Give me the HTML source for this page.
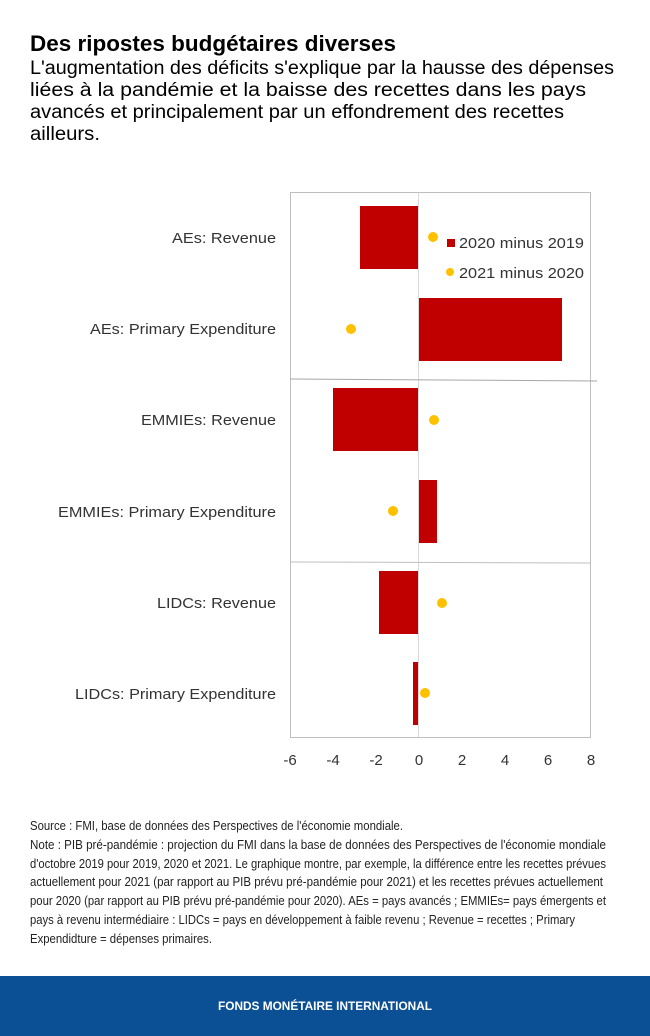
<!DOCTYPE html>
<html><head><meta charset="utf-8"><style>
html,body{margin:0;padding:0;background:#fff;}
svg{display:block;}
</style></head><body>
<svg width="650" height="1036" xmlns="http://www.w3.org/2000/svg" font-family="Liberation Sans, sans-serif">
<rect width="650" height="1036" fill="#fff"/>
<text x="30" y="51" font-size="22" font-weight="bold" fill="#000" textLength="366" lengthAdjust="spacingAndGlyphs">Des ripostes budgétaires diverses</text>
<g font-size="19" fill="#000">
<text x="30" y="74" textLength="584" lengthAdjust="spacingAndGlyphs">L'augmentation des déficits s'explique par la hausse des dépenses</text>
<text x="30" y="96" textLength="556" lengthAdjust="spacingAndGlyphs">liées à la pandémie et la baisse des recettes dans les pays</text>
<text x="30" y="118" textLength="534" lengthAdjust="spacingAndGlyphs">avancés et principalement par un effondrement des recettes</text>
<text x="30" y="140" textLength="70" lengthAdjust="spacingAndGlyphs">ailleurs.</text>
</g>
<rect x="290.5" y="192.5" width="300" height="545" fill="none" stroke="#bfbfbf"/>
<line x1="418.5" y1="193" x2="418.5" y2="737" stroke="#d9d9d9"/>
<line x1="290" y1="379" x2="597" y2="381" stroke="#a6a6a6"/>
<line x1="290" y1="562" x2="591" y2="563" stroke="#bfbfbf"/>
<g fill="#c00000">
<rect x="360" y="206" width="58" height="63"/>
<rect x="419" y="298" width="143" height="63"/>
<rect x="333" y="388" width="85" height="63"/>
<rect x="419" y="480" width="18" height="63"/>
<rect x="379" y="571" width="39" height="63"/>
<rect x="413" y="662" width="5" height="63"/>
</g>
<g fill="#ffc000">
<circle cx="433" cy="237" r="5"/>
<circle cx="351" cy="329" r="5"/>
<circle cx="434" cy="420" r="5"/>
<circle cx="393" cy="511" r="5"/>
<circle cx="442" cy="603" r="5"/>
<circle cx="425" cy="693" r="5"/>
</g>
<rect x="447" y="239" width="8" height="8" fill="#c00000"/>
<circle cx="450" cy="272" r="4" fill="#ffc000"/>
<g font-size="15" fill="#333">
<text x="459" y="248" textLength="125" lengthAdjust="spacingAndGlyphs">2020 minus 2019</text>
<text x="459" y="278" textLength="125" lengthAdjust="spacingAndGlyphs">2021 minus 2020</text>
</g>
<g font-size="15" fill="#333" text-anchor="end">
<text x="276" y="243" textLength="104" lengthAdjust="spacingAndGlyphs">AEs: Revenue</text>
<text x="276" y="334" textLength="186" lengthAdjust="spacingAndGlyphs">AEs: Primary Expenditure</text>
<text x="276" y="425" textLength="135" lengthAdjust="spacingAndGlyphs">EMMIEs: Revenue</text>
<text x="276" y="517" textLength="218" lengthAdjust="spacingAndGlyphs">EMMIEs: Primary Expenditure</text>
<text x="276" y="608" textLength="119" lengthAdjust="spacingAndGlyphs">LIDCs: Revenue</text>
<text x="276" y="699" textLength="201" lengthAdjust="spacingAndGlyphs">LIDCs: Primary Expenditure</text>
</g>
<g font-size="15" fill="#333" text-anchor="middle">
<text x="290" y="765">-6</text>
<text x="333" y="765">-4</text>
<text x="376" y="765">-2</text>
<text x="419" y="765">0</text>
<text x="462" y="765">2</text>
<text x="505" y="765">4</text>
<text x="548" y="765">6</text>
<text x="591" y="765">8</text>
</g>
<g font-size="12.5" fill="#222">
<text x="30" y="830" textLength="373" lengthAdjust="spacingAndGlyphs">Source : FMI, base de données des Perspectives de l'économie mondiale.</text>
<text x="30" y="849" textLength="576" lengthAdjust="spacingAndGlyphs">Note : PIB pré-pandémie : projection du FMI dans la base de données des Perspectives de l'économie mondiale</text>
<text x="30" y="868" textLength="576" lengthAdjust="spacingAndGlyphs">d'octobre 2019 pour 2019, 2020 et 2021. Le graphique montre, par exemple, la différence entre les recettes prévues</text>
<text x="30" y="886" textLength="573" lengthAdjust="spacingAndGlyphs">actuellement pour 2021 (par rapport au PIB prévu pré-pandémie pour 2021) et les recettes prévues actuellement</text>
<text x="30" y="905" textLength="576" lengthAdjust="spacingAndGlyphs">pour 2020 (par rapport au PIB prévu pré-pandémie pour 2020). AEs = pays avancés ; EMMIEs= pays émergents et</text>
<text x="30" y="924" textLength="545" lengthAdjust="spacingAndGlyphs">pays à revenu intermédiaire : LIDCs = pays en développement à faible revenu ; Revenue = recettes ; Primary</text>
<text x="30" y="943" textLength="182" lengthAdjust="spacingAndGlyphs">Expendidture = dépenses primaires.</text>
</g>
<rect x="0" y="976" width="650" height="60" fill="#0b4f95"/>
<text x="325" y="1010" font-size="11.5" font-weight="bold" fill="#fff" text-anchor="middle" textLength="214" lengthAdjust="spacingAndGlyphs">FONDS MONÉTAIRE INTERNATIONAL</text>
</svg>
</body></html>
